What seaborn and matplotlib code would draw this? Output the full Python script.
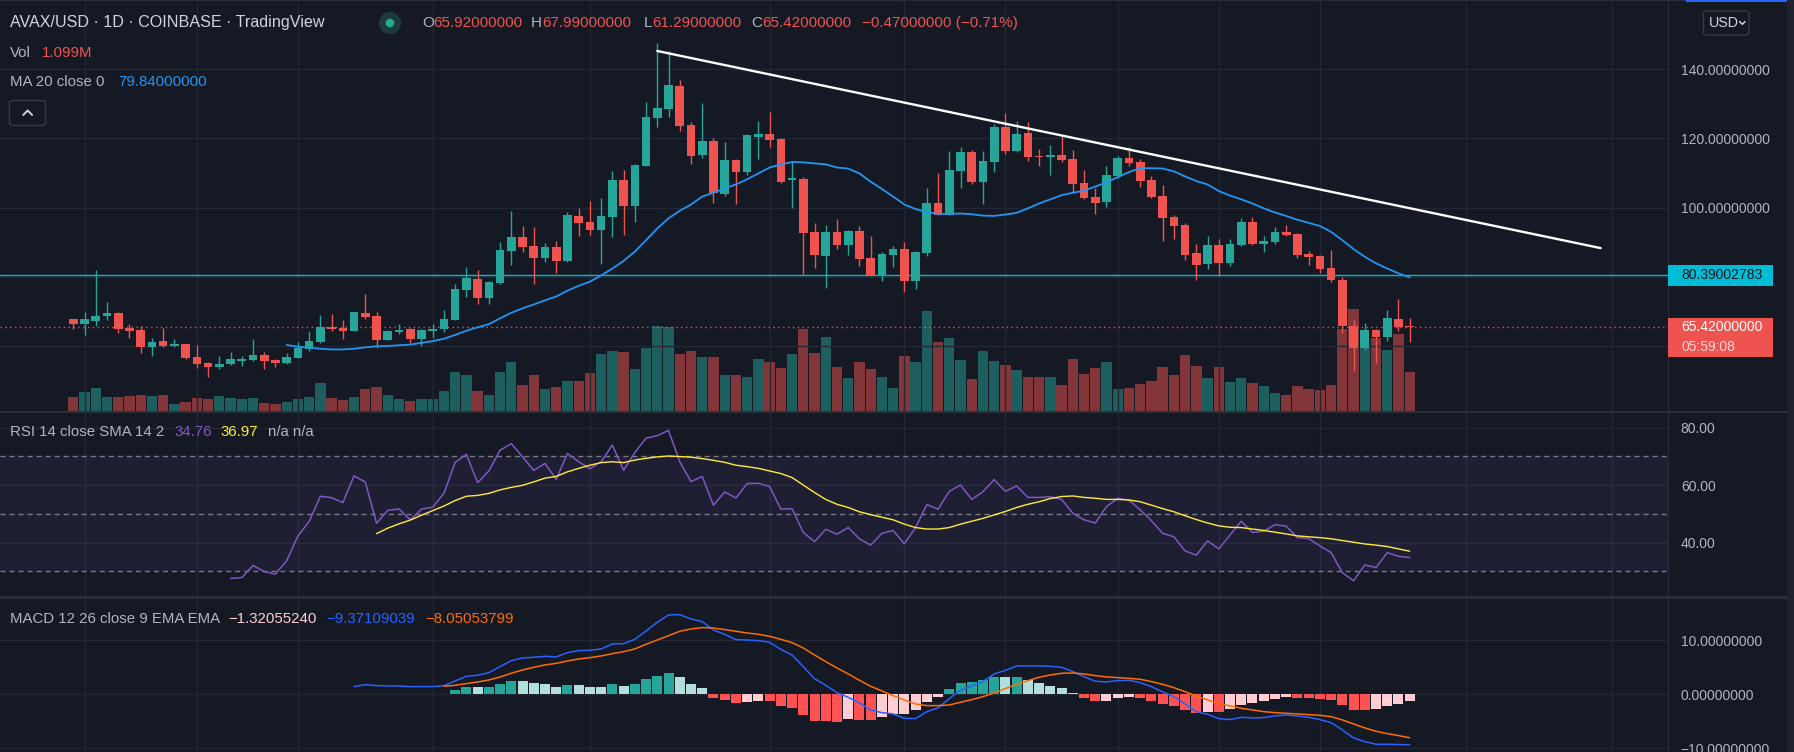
import numpy as np
import matplotlib
matplotlib.use("Agg")
import matplotlib.pyplot as plt
import matplotlib.transforms as mtransforms
from matplotlib.patches import Rectangle, FancyBboxPatch, Ellipse
from matplotlib.lines import Line2D
import seaborn as sns

# ---------------- DATA ----------------
opens = [67.7, 66.3, 67.2, 68.8, 69.5, 65.3, 64.6, 59.8, 61.4, 60.1,
         60.5, 56.8, 55.1, 54.0, 54.7, 55.7, 56.0, 57.4, 55.9, 55.2,
         56.6, 59.2, 61.2, 65.6, 65.2, 64.4, 69.5, 68.6, 61.8, 64.1,
         64.9, 62.1, 64.4, 64.8, 67.6, 76.3, 79.4, 74.0, 78.2, 87.6,
         91.5, 88.9, 85.5, 88.6, 84.6, 97.6, 95.8, 93.6, 97.4, 108.0,
         100.6, 112.1, 126.0, 128.6, 135.2, 123.9, 115.3, 119.3, 104.0, 113.8,
         110.4, 120.5, 121.3, 119.9, 107.9, 108.3, 93.0, 86.1, 93.0, 89.3,
         93.2, 85.4, 80.3, 86.4, 88.0, 78.9, 87.0, 101.3, 98.0, 110.7,
         116.1, 107.5, 113.3, 123.2, 116.5, 121.6, 114.9, 114.7, 115.2, 114.1,
         107.1, 103.1, 101.6, 109.1, 114.4, 113.2, 108.0, 103.4, 97.3, 95.0,
         86.9, 83.8, 89.2, 84.1, 89.2, 95.8, 89.6, 90.1, 93.0, 92.4,
         86.6, 86.0, 82.5, 79.1, 65.9, 59.5, 64.6, 62.7, 67.8, 65.92]
highs = [67.9, 69.7, 82.0, 72.6, 69.7, 66.5, 65.8, 62.2, 65.1, 62.0,
         60.7, 60.3, 55.3, 57.1, 58.2, 57.1, 62.0, 58.2, 56.2, 57.9,
         61.1, 64.4, 68.9, 69.2, 67.5, 69.9, 75.0, 69.7, 64.5, 66.3,
         65.1, 64.8, 66.5, 70.4, 77.9, 82.8, 82.0, 78.7, 90.0, 99.0,
         94.7, 94.4, 89.9, 90.3, 98.7, 99.9, 101.9, 102.8, 110.6, 110.9,
         112.6, 130.6, 147.5, 145.3, 136.9, 124.8, 130.3, 120.1, 119.0, 114.1,
         121.2, 125.1, 127.7, 120.1, 113.2, 109.0, 95.6, 95.0, 96.7, 93.4,
         94.7, 91.8, 87.2, 88.9, 90.0, 87.5, 105.7, 110.0, 116.4, 117.5,
         116.7, 116.4, 124.2, 127.4, 125.1, 124.8, 117.0, 118.1, 121.0, 116.7,
         110.9, 105.7, 112.0, 115.0, 117.5, 114.1, 109.1, 106.5, 97.9, 95.6,
         89.5, 91.8, 90.9, 90.9, 97.0, 97.3, 91.8, 94.4, 95.0, 92.7,
         87.5, 86.3, 87.7, 80.0, 67.5, 66.6, 64.8, 70.4, 73.6, 67.99]
lows = [64.8, 63.2, 65.9, 67.5, 63.7, 62.4, 57.9, 57.2, 59.8, 59.8,
        56.3, 53.7, 51.1, 53.4, 54.5, 54.3, 55.7, 53.2, 54.0, 54.9,
        56.5, 58.6, 61.0, 64.4, 62.1, 64.2, 67.8, 59.5, 61.6, 63.6,
        60.9, 60.1, 62.4, 64.1, 67.4, 74.2, 72.2, 72.2, 78.0, 83.5,
        87.2, 78.0, 84.4, 81.2, 84.4, 91.9, 92.1, 83.8, 91.6, 92.2,
        95.9, 111.9, 123.4, 126.3, 122.3, 112.7, 114.4, 101.4, 103.5, 101.1,
        109.5, 114.2, 117.6, 107.2, 100.0, 80.9, 82.6, 76.9, 88.1, 86.4,
        83.2, 80.3, 78.9, 82.9, 75.7, 76.6, 86.1, 97.8, 97.8, 105.8,
        106.9, 101.1, 110.4, 115.6, 116.2, 113.6, 112.1, 109.5, 113.3, 104.6,
        102.6, 98.3, 100.3, 108.6, 112.1, 106.1, 102.9, 90.4, 91.0, 85.0,
        79.2, 82.3, 80.3, 83.2, 89.0, 89.3, 87.3, 89.6, 91.8, 85.5,
        83.5, 81.2, 78.6, 63.8, 52.8, 58.9, 55.2, 61.5, 64.4, 61.29]
closes = [66.3, 67.7, 68.8, 69.5, 65.0, 64.4, 59.8, 61.1, 60.1, 60.5,
          56.6, 54.9, 54.0, 54.8, 56.2, 56.2, 57.4, 55.7, 55.2, 56.7,
          59.4, 61.4, 65.5, 65.0, 64.4, 69.7, 68.3, 61.8, 64.3, 64.6,
          62.1, 64.6, 64.8, 67.8, 76.5, 79.6, 74.0, 78.5, 87.7, 91.5,
          88.7, 85.5, 88.6, 84.6, 97.9, 95.6, 93.6, 97.6, 108.0, 100.6,
          112.3, 126.2, 128.8, 135.5, 123.7, 115.0, 119.3, 104.2, 113.8, 110.4,
          121.0, 121.3, 119.7, 107.5, 108.6, 92.8, 86.4, 93.0, 89.3, 93.2,
          85.2, 80.6, 86.6, 88.0, 78.9, 87.2, 101.3, 98.0, 110.9, 116.1,
          107.5, 113.5, 123.2, 116.5, 121.3, 114.7, 114.6, 115.2, 113.9, 106.9,
          102.9, 101.4, 109.4, 114.4, 112.9, 107.8, 103.2, 97.1, 94.8, 86.4,
          83.5, 89.2, 84.1, 89.5, 95.8, 89.6, 90.3, 93.0, 92.1, 86.4,
          85.8, 82.3, 79.2, 65.9, 59.5, 64.6, 62.7, 68.1, 65.6, 65.42]
volumes_m = [0.385, 0.535, 0.639, 0.385, 0.385, 0.423, 0.451, 0.423, 0.451, 0.197,
             0.254, 0.357, 0.329, 0.423, 0.357, 0.338, 0.357, 0.225, 0.197, 0.254,
             0.338, 0.395, 0.789, 0.366, 0.310, 0.395, 0.620, 0.676, 0.451, 0.338,
             0.282, 0.338, 0.338, 0.564, 1.099, 1.014, 0.564, 0.451, 1.099, 1.381,
             0.733, 1.014, 0.620, 0.676, 0.845, 0.845, 1.071, 1.606, 1.691, 1.663,
             1.184, 1.775, 2.395, 2.367, 1.606, 1.691, 1.522, 1.522, 1.014, 1.014,
             0.958, 1.465, 1.381, 1.212, 1.606, 2.320, 1.634, 2.085, 1.240, 0.930,
             1.381, 1.184, 0.958, 0.648, 1.550, 1.381, 2.818, 1.944, 2.057, 1.437,
             0.902, 1.691, 1.409, 1.296, 1.155, 0.958, 0.958, 0.958, 0.733, 1.465,
             1.043, 1.212, 1.381, 0.620, 0.648, 0.761, 0.845, 1.240, 1.014, 1.578,
             1.268, 0.930, 1.240, 0.817, 0.930, 0.789, 0.704, 0.507, 0.451, 0.704,
             0.620, 0.592, 0.733, 2.320, 2.874, 1.832, 2.057, 1.719, 2.170, 1.099]

ma20_start = 19
ma20 = [60.3, 59.8, 59.5, 59.2, 59.0, 59.0, 59.2, 59.6, 59.9, 60.0,
        60.2, 60.4, 60.9, 61.4, 62.1, 63.2, 64.4, 65.4, 66.3, 68.0,
        69.6, 70.9, 72.0, 73.2, 74.3, 76.0, 77.4, 78.6, 80.4, 82.4,
        84.6, 87.3, 90.6, 94.0, 96.9, 99.1, 100.9, 103.2, 104.3, 105.6,
        106.7, 108.2, 109.9, 111.6, 112.5, 113.2, 113.1, 112.8, 112.5, 111.6,
        111.3, 109.9, 107.5, 105.4, 103.2, 100.9, 99.6, 98.7, 98.2, 98.2,
        98.3, 98.1, 97.7, 97.6, 98.0, 98.5, 99.8, 101.2, 102.4, 103.6,
        104.3, 104.9, 106.1, 107.3, 108.8, 110.3, 111.4, 111.4, 111.3, 110.5,
        109.0, 107.7, 106.7, 104.8, 103.5, 102.4, 101.2, 99.8, 98.6, 97.6,
        96.5, 95.6, 94.7, 93.0, 90.6, 88.0, 85.8, 83.9, 82.4, 81.0,
        79.84]

rsi_start = 14
rsi = [27.5, 27.8, 32.0, 29.9, 29.0, 33.7, 42.3, 47.3, 56.1, 55.6,
       53.9, 63.2, 61.0, 46.7, 51.2, 51.7, 47.9, 51.6, 52.3, 57.1,
       67.9, 70.7, 60.8, 64.9, 72.1, 74.4, 69.8, 65.1, 67.5, 62.0,
       71.0, 68.1, 65.7, 68.1, 73.9, 65.1, 71.3, 76.3, 77.2, 79.0,
       68.1, 61.2, 63.0, 53.0, 57.6, 55.5, 60.5, 60.6, 59.5, 51.6,
       51.8, 43.5, 40.3, 44.6, 42.9, 45.2, 41.3, 39.1, 43.2, 44.2,
       39.6, 45.2, 53.2, 51.6, 57.8, 60.0, 55.0, 57.7, 61.9, 57.8,
       59.7, 55.7, 55.7, 55.9, 55.0, 50.2, 47.9, 46.8, 52.5, 55.4,
       54.7, 51.4, 47.6, 43.2, 42.0, 37.1, 35.6, 40.6, 37.8, 42.6,
       47.4, 43.5, 44.0, 46.2, 45.7, 41.7, 41.4, 38.8, 36.5, 29.5,
       26.7, 32.2, 31.3, 36.5, 35.2, 34.76]

rsi_ma_start = 27
rsi_ma = [43.1, 45.0, 46.5, 47.8, 49.5, 51.1, 52.7, 54.6, 56.1, 56.4,
          57.1, 58.3, 59.2, 59.9, 61.1, 62.4, 63.0, 64.6, 65.8, 66.9,
          67.8, 68.1, 67.8, 68.7, 69.3, 69.8, 70.1, 69.9, 69.7, 69.2,
          68.6, 67.9, 66.9, 66.4, 65.8, 64.9, 64.0, 62.6, 60.0, 57.4,
          55.0, 53.3, 52.2, 50.7, 49.7, 48.8, 47.9, 46.4, 45.2, 44.7,
          44.7, 45.2, 46.4, 47.4, 48.4, 49.6, 50.8, 52.2, 53.3, 54.2,
          55.3, 56.0, 56.2, 55.7, 55.4, 55.0, 55.0, 54.8, 54.2, 53.0,
          51.8, 50.7, 49.3, 48.0, 46.8, 45.8, 45.3, 45.2, 44.7, 44.2,
          43.6, 43.0, 42.3, 42.0, 41.7, 41.3, 40.7, 40.1, 39.5, 39.1,
          38.6, 37.8, 36.97]

macd_start = 25
macd = [1.42, 1.79, 1.60, 1.54, 1.54, 1.42, 1.42, 1.42, 1.60, 2.47,
        3.33, 3.52, 4.01, 5.12, 6.23, 6.73, 6.85, 7.04, 6.91, 7.72,
        8.09, 8.15, 8.40, 9.32, 9.38, 10.19, 11.73, 13.33, 14.69, 14.75,
        13.95, 13.46, 11.91, 11.11, 10.12, 10.06, 9.94, 9.63, 8.33, 7.28,
        5.12, 2.90, 1.67, 0.31, -0.56, -1.60, -2.90, -3.40, -3.64, -4.44,
        -4.51, -3.21, -2.53, -0.80, 0.80, 1.54, 2.35, 3.77, 4.44, 5.25,
        5.25, 5.25, 5.19, 5.00, 4.20, 3.27, 2.41, 2.28, 2.53, 2.59,
        2.16, 1.42, 0.43, -0.43, -1.79, -3.21, -3.70, -4.51, -4.69, -4.26,
        -4.38, -4.32, -4.01, -3.83, -4.01, -4.26, -4.69, -5.25, -6.60, -8.09,
        -8.77, -9.26, -9.26, -9.30, -9.37]

signal_start = 33
signal = [1.48, 1.67, 1.98, 2.28, 2.65, 3.21, 3.89, 4.51, 5.00, 5.43,
          5.74, 6.17, 6.54, 6.79, 7.10, 7.53, 7.90, 8.40, 9.26, 10.06,
          10.86, 11.67, 12.10, 12.35, 12.28, 11.98, 11.67, 11.36, 11.11, 10.74,
          10.19, 9.57, 8.58, 7.28, 6.05, 4.88, 3.77, 2.59, 1.48, 0.62,
          -0.25, -1.05, -1.79, -2.10, -2.10, -1.98, -1.48, -0.99, -0.43, 0.25,
          1.05, 1.85, 2.53, 3.15, 3.58, 3.89, 3.95, 3.77, 3.46, 3.21,
          3.09, 2.96, 2.78, 2.35, 1.85, 1.23, 0.49, -0.31, -1.05, -1.67,
          -2.16, -2.59, -2.90, -3.21, -3.40, -3.52, -3.64, -3.77, -3.89, -4.14,
          -4.75, -5.49, -6.23, -6.85, -7.28, -7.65, -8.05]

hist_start = 33
hist = [0.12, 0.80, 1.42, 1.30, 1.42, 1.91, 2.53, 2.47, 2.10, 1.91,
        1.36, 1.73, 1.67, 1.36, 1.30, 1.91, 1.54, 1.91, 2.84, 3.40,
        3.95, 3.21, 1.91, 1.17, -0.68, -1.05, -1.60, -1.42, -1.17, -1.30,
        -2.16, -2.53, -3.83, -4.94, -5.00, -5.06, -4.57, -4.75, -4.81, -4.20,
        -3.64, -3.58, -2.90, -1.42, -0.49, 0.93, 2.10, 2.28, 2.65, 3.21,
        3.15, 3.21, 2.65, 2.10, 1.54, 1.17, 0.25, -0.68, -1.23, -1.17,
        -0.68, -0.49, -0.68, -1.23, -1.79, -2.16, -2.90, -3.46, -3.27, -3.33,
        -2.72, -1.98, -1.60, -1.23, -0.86, -0.49, -0.68, -0.74, -0.86, -1.05,
        -1.98, -2.90, -2.96, -2.72, -2.16, -1.79, -1.32]

trend_x = [52, 136]
trend_y = [145.3, 88.3]
hline_level = 80.39002783
time_grid = [1, 11, 20, 32, 46, 62, 74, 83, 93, 102, 111, 124, 137]
price_ticks = [60, 80, 100, 120, 140]
price_labels = ["", "", "100.00000000", "120.00000000", "140.00000000"]
rsi_ticks = [40, 60, 80]
rsi_labels = ["40.00", "60.00", "80.00"]
macd_ticks = [-10, 0, 10]
macd_labels = ["\u221210.00000000", "0.00000000", "10.00000000"]
countdown = "05:59:08"
change_text = "\u22120.47000000 (\u22120.71%)"
macd_legend = ["\u22121.32055240", "\u22129.37109039", "\u22128.05053799"]

# ---------------- STYLE ----------------
sns.set_theme(style="dark")
plt.rcParams['font.family'] = ['Liberation Sans', 'DejaVu Sans']
plt.rcParams['axes.unicode_minus'] = True

BG = '#151924'
GRID = '#232733'
SEP = '#2a2e39'
TXT = '#b2b5be'
UP, DOWN = '#26a69a', '#ef5350'

W, H = 1794, 752
fig = plt.figure(figsize=(W / 100, H / 100), dpi=100, facecolor=BG)

def fx(px):
    return px / W

def fy(py):
    return 1 - py / H

PR = 1668
ax_p = fig.add_axes([0, fy(411), fx(PR), 411 / H])
ax_r = fig.add_axes([0, fy(596), fx(PR), (596 - 413) / H])
ax_m = fig.add_axes([0, 0, fx(PR), (752 - 599) / H])

XL = (-6.53, 142.0)

def style_axis(ax):
    ax.set_facecolor(BG)
    ax.set_xlim(*XL)
    ax.set_xticks(time_grid)
    ax.set_xticklabels([""] * len(time_grid))
    ax.tick_params(axis='x', length=0, labelbottom=False, labeltop=False,
                   bottom=False, top=False)
    ax.grid(True, color=GRID, linewidth=1.0)
    for s in ax.spines.values():
        s.set_visible(False)
    ax.yaxis.tick_right()
    ax.tick_params(axis='y', length=0, pad=9.2, labelcolor=TXT, labelsize=10,
                   left=False, labelleft=False, right=False, labelright=True)
    ax.set_xlabel('')
    ax.set_ylabel('')

# ---- price pane ----
o = np.array(opens); h = np.array(highs); l = np.array(lows); c = np.array(closes)
idx = np.arange(len(c))
up = c >= o
cols = np.where(up, UP, DOWN)

ax_v = ax_p.twinx()
ax_v.bar(idx, volumes_m, width=0.92, color=cols, alpha=0.5, linewidth=0)
ax_v.set_ylim(0, 11.58)
ax_v.set_xlim(*XL)
ax_v.set_axis_off()
ax_p.set_zorder(ax_v.get_zorder() + 1)

ax_p.axhline(hline_level, color='#00bcd4', linewidth=1.0, zorder=2)
ax_p.axhline(c[-1], color=DOWN, linewidth=1.0, linestyle=(0, (1, 2.5)), zorder=2)
ax_p.vlines(idx, l, h, colors=cols, linewidth=1.0, zorder=3)
body = np.maximum(np.abs(c - o), 0.3)
ax_p.bar(idx, body, bottom=np.minimum(o, c), width=0.77, color=cols, linewidth=0, zorder=4)
sns.lineplot(x=np.arange(ma20_start, ma20_start + len(ma20)), y=ma20, ax=ax_p,
             color='#2196f3', linewidth=1.3, estimator=None, legend=False, zorder=5)
ax_p.plot(trend_x, trend_y, color='white', linewidth=1.7, solid_capstyle='round', zorder=6)

style_axis(ax_p)
ax_p.patch.set_visible(False)
ax_p.set_ylim(41.2, 160.04)
ax_p.set_yticks(price_ticks)
ax_p.set_yticklabels(price_labels)

# ---- RSI pane ----
ax_r.axhspan(30, 70, color='#7e57c2', alpha=0.1, linewidth=0, zorder=1)
for lv in (70, 50, 30):
    ax_r.axhline(lv, color='#787b86', linewidth=1.0, linestyle=(0, (3.6, 2.9)), zorder=2)
sns.lineplot(x=np.arange(rsi_start, rsi_start + len(rsi)), y=rsi, ax=ax_r,
             color='#7e57c2', linewidth=1.1, estimator=None, legend=False, zorder=4)
sns.lineplot(x=np.arange(rsi_ma_start, rsi_ma_start + len(rsi_ma)), y=rsi_ma, ax=ax_r,
             color='#ffeb3b', linewidth=1.0, estimator=None, legend=False, zorder=5)
style_axis(ax_r)
ax_r.set_ylim(21.4, 85.06)
ax_r.set_yticks(rsi_ticks)
ax_r.set_yticklabels(rsi_labels)

# ---- MACD pane ----
hcols = []
prev = None
for v in hist:
    rising = prev is not None and v > prev
    if v >= 0:
        hcols.append('#26a69a' if rising else '#b2dfdb')
    else:
        hcols.append('#ffcdd2' if rising else '#ff5252')
    prev = v
ax_m.bar(np.arange(hist_start, hist_start + len(hist)), hist, width=0.89,
         color=hcols, linewidth=0, zorder=3)
sns.lineplot(x=np.arange(macd_start, macd_start + len(macd)), y=macd, ax=ax_m,
             color='#2962ff', linewidth=1.1, estimator=None, legend=False, zorder=4)
sns.lineplot(x=np.arange(signal_start, signal_start + len(signal)), y=signal, ax=ax_m,
             color='#ff6d00', linewidth=1.1, estimator=None, legend=False, zorder=5)
style_axis(ax_m)
ax_m.set_ylim(-10.69, 17.65)
ax_m.set_yticks(macd_ticks)
ax_m.set_yticklabels(macd_labels)

# ---- separators & frame ----
def frect(x0, y0, x1, y1, color, **kw):
    fig.add_artist(Rectangle((fx(x0), fy(y1)), fx(x1) - fx(x0), (y1 - y0) / H,
                             transform=fig.transFigure, facecolor=color,
                             edgecolor='none', **kw))

frect(0, 411, 1787, 413.5, SEP)
frect(0, 596, 1787, 598.5, SEP)
frect(PR, 0, PR + 1, 752, SEP)
frect(1787, 0, 1794, 752, '#1e222d')
frect(0, 0, 1787, 1, SEP)
frect(1686, 0, 1787, 1.5, '#2962ff')

# ---- right axis price labels ----
trp = mtransforms.blended_transform_factory(fig.transFigure, ax_p.transData)
ax_p.add_patch(Rectangle((fx(PR), hline_level - 3.0), fx(1773) - fx(PR), 6.0,
                         transform=trp, facecolor='#00bcd4', edgecolor='none',
                         clip_on=False, zorder=20))
ax_p.text(fx(1681), hline_level, "%.8f" % hline_level, transform=trp, color='#131722',
          fontsize=10, va='center', ha='left', clip_on=False, zorder=21)
ax_p.add_patch(Rectangle((fx(PR), 56.83), fx(1773) - fx(PR), 11.27,
                         transform=trp, facecolor='#ef5350', edgecolor='none',
                         clip_on=False, zorder=20))
ax_p.text(fx(1681), c[-1], "%.8f" % c[-1], transform=trp, color='white',
          fontsize=10, va='center', ha='left', clip_on=False, zorder=21)
ax_p.text(fx(1681), 59.8, countdown, transform=trp, color='#ffd9d9',
          fontsize=10, va='center', ha='left', clip_on=False, zorder=21)

# ---- header / legends ----
def T(x, y, s, color, size=10.8, **kw):
    fig.text(fx(x), fy(y), s, color=color, fontsize=size, ha='left', va='center', **kw)

T(9.6, 23, "AVAX/USD \u00b7 1D \u00b7 COINBASE \u00b7 TradingView", '#d1d4dc', size=11.6)
fig.add_artist(Ellipse((fx(390), fy(23)), 22 / W, 22 / H, transform=fig.transFigure,
                       facecolor='#1c3b3c', edgecolor='none'))
fig.add_artist(Ellipse((fx(390), fy(23)), 8.6 / W, 8.6 / H, transform=fig.transFigure,
                       facecolor='#22ab94', edgecolor='none'))
GR = '#b2b5be'
RD = '#ef5350'
T(422, 23, "O", GR, size=11)
T(433.7, 23, "%.8f" % o[-1], RD, size=11)
T(530.6, 23, "H", GR, size=11)
T(542, 23, "%.8f" % h[-1], RD, size=11)
T(644, 23, "L", GR, size=11)
T(651.8, 23, "%.8f" % l[-1], RD, size=11)
T(751.3, 23, "C", GR, size=11)
T(762, 23, "%.8f" % c[-1], RD, size=11)
T(862.2, 23, change_text, RD, size=11)

T(9.6, 53, "Vol", GR)
T(41.5, 53, "%.3fM" % volumes_m[-1], RD)
T(9.6, 82, "MA 20 close 0", GR)
T(118, 82, "%.8f" % ma20[-1], '#2196f3')

# collapse button
fig.add_artist(FancyBboxPatch((fx(9.5), fy(125.5)), (45.5 - 9.5) / W, (125.5 - 100.5) / H,
                              boxstyle="round,pad=0,rounding_size=0.003",
                              transform=fig.transFigure, facecolor=BG,
                              edgecolor='#363a45', linewidth=1.0))
fig.add_artist(Line2D([fx(23.2), fx(27.7), fx(32.1)], [fy(115), fy(110.5), fy(115)],
                      transform=fig.transFigure, color='#d1d4dc', linewidth=1.4))

# currency button
fig.add_artist(FancyBboxPatch((fx(1703.5), fy(35)), (1749 - 1703.5) / W, (35 - 11) / H,
                              boxstyle="round,pad=0,rounding_size=0.003",
                              transform=fig.transFigure, facecolor=BG,
                              edgecolor='#363a45', linewidth=1.0))
T(1709, 23, "USD", '#d1d4dc', size=10.3)
fig.add_artist(Line2D([fx(1739.6), fx(1742.3), fx(1745.0)], [fy(21.6), fy(24.3), fy(21.6)],
                      transform=fig.transFigure, color='#d1d4dc', linewidth=1.1))

T(9.6, 432, "RSI 14 close SMA 14 2", GR)
T(174.5, 432, "%.2f" % rsi[-1], '#7e57c2')
T(220.7, 432, "%.2f" % rsi_ma[-1], '#ffeb3b')
T(268, 432, "n/a n/a", GR)

T(9.6, 619, "MACD 12 26 close 9 EMA EMA", GR)
T(228.3, 619, macd_legend[0], '#ffcdd2')
T(326.7, 619, macd_legend[1], '#2962ff')
T(425.3, 619, macd_legend[2], '#ff6d00')

fig.savefig("out.png", dpi=100, facecolor=BG)
